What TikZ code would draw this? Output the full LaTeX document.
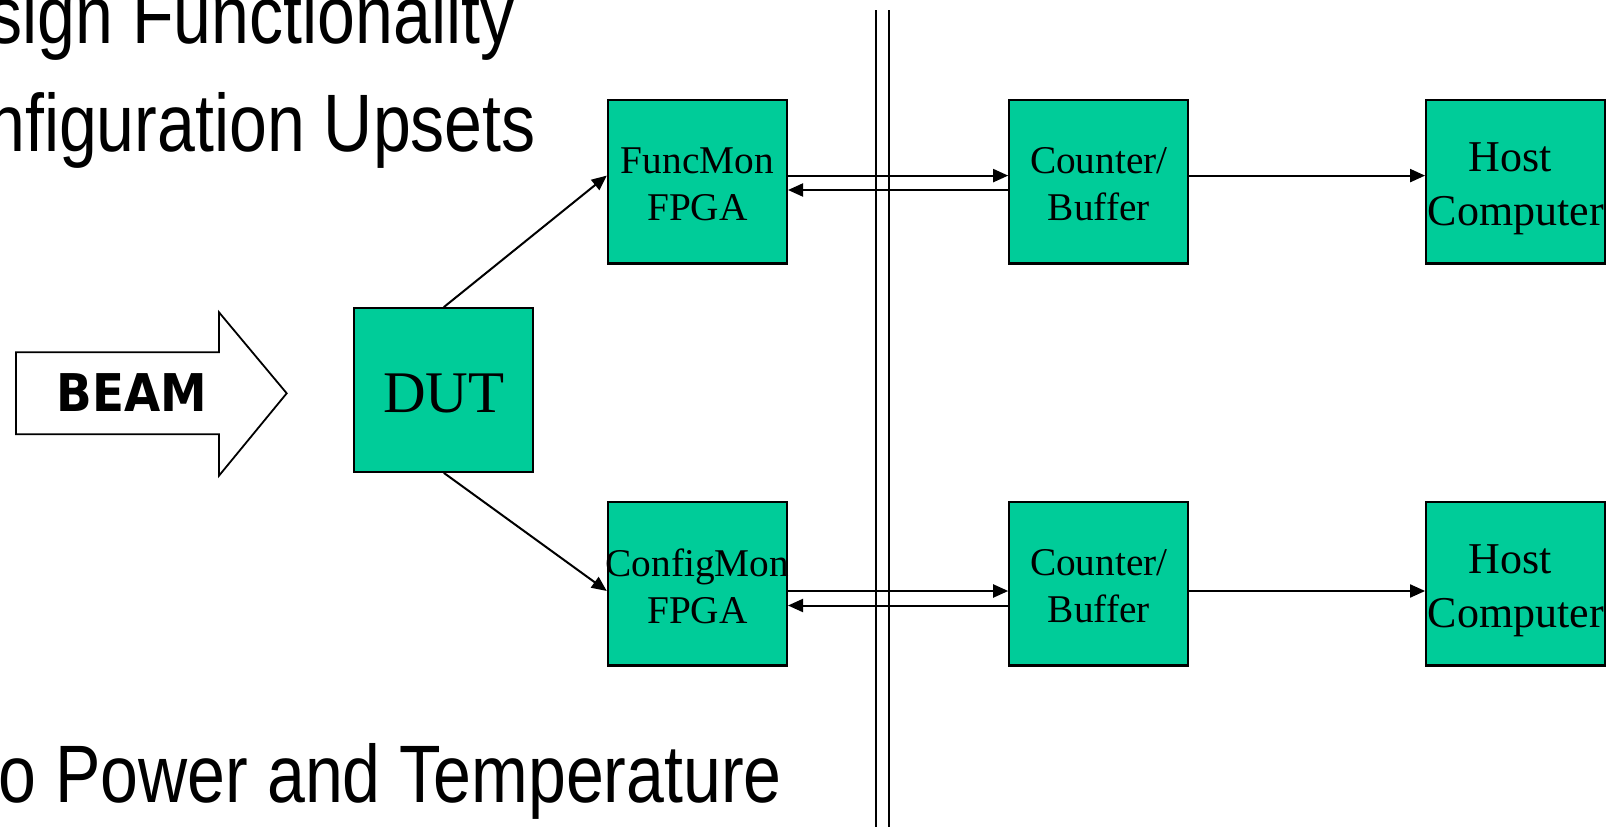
\documentclass[tikz,border=0pt]{standalone}
\usepackage{fontspec}
\setmainfont{Liberation Serif}
\newfontfamily\narrowsans[FakeStretch=0.835]{Liberation Sans}
\newfontfamily\beamfont[FakeStretch=0.9]{DejaVu Sans}
\usetikzlibrary{arrows.meta}
\definecolor{boxgreen}{RGB}{0,204,153}
\begin{document}
\begin{tikzpicture}[x=1pt,y=-1pt,
  blk/.style={draw=black, line width=2.2pt, fill=boxgreen, minimum width=179pt, minimum height=163.5pt, inner sep=0pt},
  lbl/.style={align=center, inner sep=0pt, font=\fontsize{39.3}{47.2}\selectfont},
  hostlbl/.style={align=center, inner sep=0pt, font=\fontsize{44}{54}\selectfont},
  conn/.style={line width=2pt, -{Triangle[length=15pt,width=13pt]}},
  bigtxt/.style={inner sep=0pt, anchor=base east, font=\narrowsans\fontsize{81.5}{98}\selectfont},
  sep/.style={line width=2pt},
]
\useasboundingbox (0,0) rectangle (1620,827);
\clip (0,0) rectangle (1620,827);

% large text (partly cut at the left edge)
\node[bigtxt] (t1) at (514.5,43.3) {sign Functionality};
\node[bigtxt] (t2) at (536,151.7) {nfiguration Upsets};
\node[bigtxt] (t3) at (782,802.7) {o Power and Temperature};

% beam arrow
\draw[line width=1.8pt, fill=white] (16,352.3) -- (219,352.3) -- (219,312.3) -- (286.7,393.3)
  -- (219,475.7) -- (219,434.3) -- (16,434.3) -- cycle;
\node[inner sep=0pt, anchor=base, font=\beamfont\bfseries\fontsize{52}{60}\selectfont] (beam) at (132,411.7) {BEAM};

% separator
\coordinate (s1a) at (876,10.3);
\coordinate (s1b) at (876,827);
\coordinate (s2a) at (889,10.3);
\coordinate (s2b) at (889,827);
\draw[sep] (s1a) -- (s1b);
\draw[sep] (s2a) -- (s2b);

% boxes
\node[blk] (dut) at (443.8,390) {};
\node[blk] (fm)  at (697.4,181.8) {};
\node[blk] (cb1) at (1098.8,181.8) {};
\node[blk] (hc1) at (1515.7,181.8) {};
\node[blk] (cm)  at (697.4,583.7) {};
\node[blk] (cb2) at (1098.8,583.7) {};
\node[blk] (hc2) at (1515.7,583.7) {};

% labels
\node[inner sep=0pt, anchor=base, font=\fontsize{59}{70}\selectfont] (dut-t) at (443.8,412.3) {DUT};
\node[lbl] (fm-t)  at ([yshift=-2.7pt]fm.center) {FuncMon\\FPGA};
\node[lbl] (cb1-t) at ([yshift=-2.7pt]cb1.center) {Counter/\\Buffer};
\node[hostlbl] (hc1-t) at ([yshift=-7.2pt]hc1.center) {Host\hspace*{10.4pt}\\Computer};
\node[lbl] (cm-t)  at ([yshift=-2.7pt]cm.center) {ConfigMon\\FPGA};
\node[lbl] (cb2-t) at ([yshift=-2.7pt]cb2.center) {Counter/\\Buffer};
\node[hostlbl] (hc2-t) at ([yshift=-7.2pt]hc2.center) {Host\hspace*{10.4pt}\\Computer};

% connectors
\draw[conn] (dut.north) -- ([yshift=6.2pt]fm.west);
\draw[conn] (dut.south) -- ([yshift=-7.3pt]cm.west);
\draw[conn] ([yshift=6.2pt]fm.east) -- ([yshift=6.2pt]cb1.west);
\draw[conn] ([yshift=-8.2pt]cb1.west) -- ([yshift=-8.2pt]fm.east);
\draw[conn] ([yshift=6.2pt]cb1.east) -- ([yshift=6.2pt]hc1.west);
\draw[conn] ([yshift=-7.3pt]cm.east) -- ([yshift=-7.3pt]cb2.west);
\draw[conn] ([yshift=-21.8pt]cb2.west) -- ([yshift=-21.8pt]cm.east);
\draw[conn] ([yshift=-7.3pt]cb2.east) -- ([yshift=-7.3pt]hc2.west);
\end{tikzpicture}
\end{document}
